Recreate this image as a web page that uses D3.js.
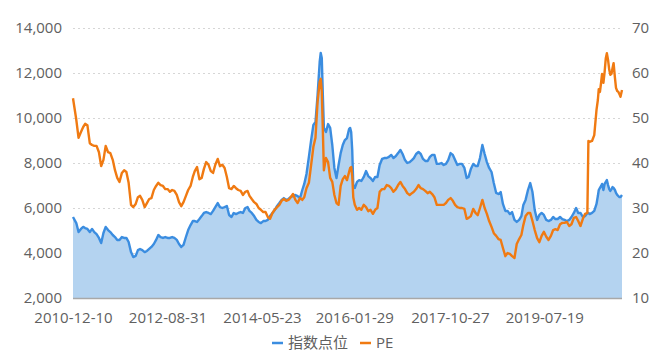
<!DOCTYPE html>
<html><head><meta charset="utf-8">
<script src="https://cdn.jsdelivr.net/npm/d3@7"></script>
<style>body{margin:0;background:#fff}svg{display:block}</style>
</head><body><svg id="c" width="660" height="358"></svg>
<script>
const dates = [
"2010-12-10",
"2011-01-01","2011-01-16","2011-02-01","2011-02-16","2011-03-01","2011-03-16","2011-04-01","2011-04-16","2011-05-01","2011-05-16","2011-06-01","2011-06-16","2011-07-01","2011-07-16","2011-08-01","2011-08-16","2011-09-01","2011-09-16","2011-10-01","2011-10-16","2011-11-01","2011-11-16","2011-12-01","2011-12-16",
"2012-01-01","2012-01-16","2012-02-01","2012-02-16","2012-03-01","2012-03-16","2012-04-01","2012-04-16","2012-05-01","2012-05-16","2012-06-01","2012-06-16","2012-07-01","2012-07-16","2012-08-01","2012-08-16","2012-09-01","2012-09-16","2012-10-01","2012-10-16","2012-11-01","2012-11-16","2012-12-01","2012-12-16",
"2013-01-01","2013-01-16","2013-02-01","2013-02-16","2013-03-01","2013-03-16","2013-04-01","2013-04-16","2013-05-01","2013-05-16","2013-06-01","2013-06-16","2013-07-01","2013-07-16","2013-08-01","2013-08-16","2013-09-01","2013-09-16","2013-10-01","2013-10-16","2013-11-01","2013-11-16","2013-12-01","2013-12-16",
"2014-01-01","2014-01-16","2014-02-01","2014-02-16","2014-03-01","2014-03-16","2014-04-01","2014-04-16","2014-05-01","2014-05-16","2014-06-01","2014-06-16","2014-07-01","2014-07-16","2014-08-01","2014-08-16","2014-09-01","2014-09-16","2014-10-01","2014-10-16","2014-11-01","2014-11-16","2014-12-01","2014-12-16",
"2015-01-01","2015-01-16","2015-02-01","2015-02-16","2015-03-01","2015-03-16","2015-04-01","2015-04-16","2015-05-01","2015-05-15","2015-05-29","2015-06-12","2015-06-19","2015-06-26","2015-07-03","2015-07-10","2015-07-24","2015-08-07","2015-08-21","2015-09-04","2015-09-18","2015-10-02","2015-10-16","2015-10-30","2015-11-13","2015-11-27","2015-12-11","2015-12-25",
"2016-01-01","2016-01-08","2016-01-15","2016-01-22","2016-02-01","2016-02-16","2016-03-01","2016-03-16","2016-04-01","2016-04-16","2016-05-01","2016-05-16","2016-06-01","2016-06-16","2016-07-01","2016-07-16","2016-08-01","2016-08-16","2016-09-01","2016-09-16","2016-10-01","2016-10-16","2016-11-01","2016-11-16","2016-12-01","2016-12-16",
"2017-01-01","2017-01-16","2017-02-01","2017-02-16","2017-03-01","2017-03-16","2017-04-01","2017-04-16","2017-05-01","2017-05-16","2017-06-01","2017-06-16","2017-07-01","2017-07-16","2017-08-01","2017-08-16","2017-09-01","2017-09-16","2017-10-01","2017-10-16","2017-11-01","2017-11-16","2017-12-01","2017-12-16",
"2018-01-01","2018-01-16","2018-02-01","2018-02-16","2018-03-01","2018-03-16","2018-04-01","2018-04-16","2018-05-01","2018-05-16","2018-06-01","2018-06-16","2018-07-01","2018-07-16","2018-08-01","2018-08-16","2018-09-01","2018-09-16","2018-10-01","2018-10-16","2018-11-01","2018-11-16","2018-12-01","2018-12-16",
"2019-01-01","2019-01-16","2019-02-01","2019-02-16","2019-03-01","2019-03-16","2019-04-01","2019-04-16","2019-05-01","2019-05-16","2019-06-01","2019-06-16","2019-07-01","2019-07-16","2019-08-01","2019-08-16","2019-09-01","2019-09-16","2019-10-01","2019-10-16","2019-11-01","2019-11-16","2019-12-01","2019-12-16",
"2020-01-01","2020-01-16","2020-02-01","2020-02-16","2020-03-01","2020-03-16","2020-04-01","2020-04-16","2020-05-01","2020-05-08","2020-05-16","2020-06-01","2020-06-16","2020-07-01","2020-07-10","2020-07-16","2020-07-24","2020-08-01","2020-08-07","2020-08-16","2020-08-24","2020-09-01","2020-09-08","2020-09-16","2020-09-24","2020-10-01","2020-10-09","2020-10-16","2020-10-23","2020-11-01","2020-11-08","2020-11-16","2020-11-24","2020-12-01","2020-12-08","2020-12-18"
];

const indexPoints = [
5600,
5330,4930,5070,5160,5110,5070,4930,5070,4930,4840,4670,4440,4890,5160,5020,4930,4800,4710,4580,4580,4710,4670,4670,4490,
4040,3820,3870,4130,4180,4130,4040,4090,4180,4270,4400,4580,4800,4710,4670,4710,4670,4670,4710,4670,4580,4400,4270,4360,
4710,5020,5240,5420,5420,5380,5510,5640,5780,5820,5780,5730,5870,6040,6220,6040,6000,6040,6090,5690,5600,5780,5730,5780,
5820,5780,6000,6040,5870,5780,5640,5470,5380,5330,5420,5420,5470,5640,5780,5910,6090,6220,6360,6440,6360,6400,6490,6530,
6580,6530,6440,6800,7070,7510,8270,9020,9690,9820,11020,12490,12890,12670,11020,9560,9380,9730,9560,8800,7780,7330,7910,8440,8800,9020,9110,9510,
9560,9380,8580,7020,6890,7160,7240,7200,7380,7640,7420,7330,7200,7380,7380,7910,8180,8220,8220,8270,8360,8220,8310,8440,8580,8400,
8130,8000,8040,8130,8220,8400,8490,8400,8180,8090,8090,8270,8360,8360,7960,7960,8000,7910,7960,8130,8440,8360,8130,7910,
7960,7960,7780,7330,7380,7730,7960,7870,7870,8220,8800,8400,8040,7780,7600,7110,6670,6620,6710,6180,5870,5870,5730,5820,
5470,5380,5470,5640,6130,6360,6800,7110,6710,5910,5470,5690,5780,5690,5470,5420,5470,5600,5510,5510,5600,5510,5470,5420,
5470,5600,5780,6000,5780,5780,5600,5640,5780,5780,5730,5780,5870,6180,6530,6800,6890,6980,7070,6800,7070,7160,7240,7020,6840,6760,6840,6930,6890,6800,6670,6580,6530,6490,6490,6580
];

const pe = [
54.4,
49.6,45.6,46.9,48.0,48.7,48.4,44.4,44.0,43.8,43.8,42.4,39.3,40.7,43.8,42.4,42.2,40.7,38.4,36.7,35.8,37.8,38.4,38.0,35.6,
30.7,30.2,30.9,32.4,32.7,31.8,30.2,31.1,32.0,32.2,34.0,34.9,35.6,35.1,34.9,34.2,34.2,33.6,34.0,33.8,32.9,31.3,30.4,31.3,
32.7,34.0,34.9,36.9,38.2,39.1,36.4,36.7,38.7,40.2,39.6,38.2,37.8,39.6,40.9,39.3,39.6,38.9,36.9,34.4,34.2,34.9,34.4,34.0,
33.8,32.9,33.6,33.8,32.7,32.0,31.3,30.9,30.0,29.6,29.1,29.1,28.0,27.6,28.9,29.6,30.2,30.7,31.6,32.0,31.6,31.8,32.4,33.1,
31.8,31.1,32.2,31.8,32.4,34.4,35.6,39.6,43.6,45.6,53.6,58.0,58.7,55.8,47.3,38.4,41.1,40.2,36.7,35.8,32.9,31.1,30.7,34.9,36.4,37.1,36.2,38.0,
38.9,39.1,37.1,32.4,30.7,29.6,30.0,29.6,30.7,30.2,29.3,29.6,28.7,29.6,30.0,33.6,34.2,34.2,35.1,34.9,34.4,33.6,34.2,35.1,35.8,34.9,
34.2,33.3,32.9,33.3,33.6,34.2,35.1,34.4,34.2,33.8,33.3,33.6,33.1,32.4,30.7,30.7,30.7,30.7,31.1,31.8,32.2,31.6,30.7,30.2,
30.0,30.0,29.8,27.6,27.8,28.2,29.8,28.9,28.4,30.0,31.8,30.0,28.7,27.1,25.8,24.4,23.8,23.1,22.9,21.1,19.3,20.0,19.8,19.3,
18.9,22.0,23.1,24.0,26.2,28.2,28.9,28.9,27.1,25.1,23.3,22.4,23.8,24.7,23.6,22.9,23.8,25.1,25.3,25.1,26.4,26.7,26.7,26.9,
26.0,26.4,27.8,28.0,27.1,26.0,27.6,28.7,28.9,44.9,44.7,44.9,46.2,51.8,54.0,56.4,55.8,58.0,59.8,57.8,60.2,63.3,64.4,62.9,60.7,59.6,59.8,61.1,62.2,58.9,56.7,56.0,55.8,55.3,54.7,56.2
];

const xTickLabels = ["2010-12-10","2012-08-31","2014-05-23","2016-01-29","2017-10-27","2019-07-19"];
const leftTicks = [2000,4000,6000,8000,10000,12000,14000];
const rightTicks = [10,20,30,40,50,60,70];
const seriesNames = ["指数点位","PE"];
const seriesColors = ["#3b8de0","#f07a12"];

const L = 73, R = 622, T = 28, B = 298;
const FONT = "'Open Sans','Noto Sans CJK SC',sans-serif";
const TXT = "#606060";
const parse = d3.timeParse("%Y-%m-%d");
const rows = dates.map((d,i)=>({t:parse(d), v:indexPoints[i], p:pe[i]}));

const x = d3.scaleTime().domain(d3.extent(rows, d=>d.t)).range([L,R]);
const yL = d3.scaleLinear().domain([2000,14000]).range([B,T]);
const yR = d3.scaleLinear().domain([10,70]).range([B,T]);

const svg = d3.select("#c");

// grid
svg.append("g").selectAll("line").data(leftTicks.slice(1)).join("line")
  .attr("x1",L).attr("x2",R)
  .attr("y1",d=>Math.round(yL(d))+0.5).attr("y2",d=>Math.round(yL(d))+0.5)
  .attr("stroke","#d6d6d6").attr("stroke-width",1).attr("stroke-dasharray","2,3");

// area + index line
svg.append("path").datum(rows)
  .attr("d", d3.area().x(d=>x(d.t)).y0(B).y1(d=>yL(d.v)))
  .attr("fill","#b4d3f0");
svg.append("path").datum(rows)
  .attr("d", d3.line().x(d=>x(d.t)).y(d=>yL(d.v)))
  .attr("fill","none").attr("stroke",seriesColors[0]).attr("stroke-width",2.4)
  .attr("stroke-linejoin","round");

// base axis line
svg.append("line").attr("x1",L).attr("x2",R).attr("y1",B+0.5).attr("y2",B+0.5)
  .attr("stroke","#a8a8a8").attr("stroke-width",1.5);

// PE line
svg.append("path").datum(rows)
  .attr("d", d3.line().x(d=>x(d.t)).y(d=>yR(d.p)))
  .attr("fill","none").attr("stroke",seriesColors[1]).attr("stroke-width",2.4)
  .attr("stroke-linejoin","round");

function styleAxis(g){
  g.select(".domain").remove();
  g.selectAll("text").attr("fill",TXT).style("font-family",FONT).style("font-size","15px");
}
svg.append("g").attr("transform",`translate(${L},0)`)
  .call(d3.axisLeft(yL).tickValues(leftTicks).tickFormat(d3.format(",")).tickSize(0).tickPadding(11))
  .call(styleAxis);
svg.append("g").attr("transform",`translate(${R},0)`)
  .call(d3.axisRight(yR).tickValues(rightTicks).tickSize(0).tickPadding(10))
  .call(styleAxis);
svg.append("g").attr("transform",`translate(0,${B})`)
  .call(d3.axisBottom(x).tickValues(xTickLabels.map(parse)).tickFormat(d3.timeFormat("%Y-%m-%d")).tickSize(0).tickPadding(14))
  .call(styleAxis);

// legend
const lg = svg.append("g").attr("transform","translate(0,343)");
const legendX = [272, 360];
seriesNames.forEach((n,i)=>{
  lg.append("line").attr("x1",legendX[i]).attr("x2",legendX[i]+11).attr("y1",0).attr("y2",0)
    .attr("stroke",seriesColors[i]).attr("stroke-width",2.5);
  lg.append("text").attr("x",legendX[i]+16).attr("y",0).attr("dy","0.35em")
    .attr("fill",TXT).style("font-family",FONT).style("font-size","15px").text(n);
});
</script>
</body></html>
